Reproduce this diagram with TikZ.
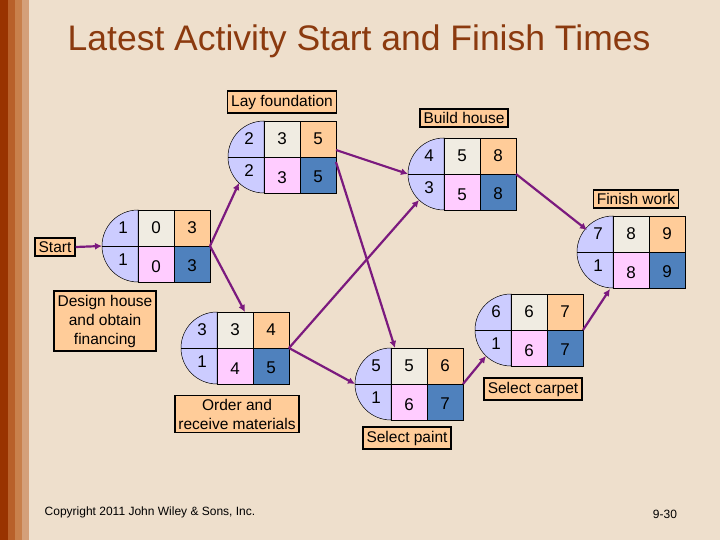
\documentclass[tikz,border=0pt]{standalone}
\usepackage{fontspec}
\setmainfont{Liberation Sans}
\usetikzlibrary{arrows.meta,calc}
\definecolor{bg}{HTML}{EEDFCC}
\definecolor{semi}{HTML}{CCCCFF}
\definecolor{es}{HTML}{F0ECE2}
\definecolor{ef}{HTML}{FFCC99}
\definecolor{ls}{HTML}{FFCCFF}
\definecolor{lf}{HTML}{4F81BD}
\definecolor{arr}{HTML}{7B1A7E}
\definecolor{ttl}{HTML}{8B3A0F}
\definecolor{st1}{HTML}{993300}
\definecolor{st2}{HTML}{B8602A}
\definecolor{st3}{HTML}{C8804C}
\definecolor{st4}{HTML}{D4A07A}
\tikzset{
 lab/.style={draw=black,line width=1.6pt,fill=ef,font=\fontsize{15.5}{19}\selectfont,align=center,inner sep=3.5pt},
 num/.style={font=\fontsize{17}{19}\selectfont},
 con/.style={draw=arr,line width=2.2pt,-{Latex[length=7pt,width=7pt]}}
}
% \actnode{name}{cx}{cy}{slack}{ES}{EF}{slack}{LS}{LF}
\newcommand{\actnode}[9]{%
 \begin{scope}[shift={(#2,#3)}]
  \filldraw[fill=semi,draw=black,line width=0.5pt] (0,-36) arc[start angle=-90,end angle=-270,radius=36] -- cycle;
  \draw[line width=0.5pt] (-36,0) -- (0,0);
  \filldraw[fill=es,draw=black,line width=0.5pt] (0,-36) rectangle (36,0);
  \filldraw[fill=ef,draw=black,line width=0.5pt] (36,-36) rectangle (72,0);
  \filldraw[fill=ls,draw=black,line width=0.5pt] (0,0) rectangle (36,36);
  \filldraw[fill=lf,draw=black,line width=0.5pt] (36,0) rectangle (72,36);
  \node[num] (#1a) at (-15,-18) {#4};
  \node[num] (#1b) at (18,-18) {#5};
  \node[num] (#1c) at (54,-18) {#6};
  \node[num] (#1d) at (-15,14) {#7};
  \node[num] (#1e) at (18,21) {#8};
  \node[num] (#1f) at (54,20) {#9};
  \coordinate (#1-l) at (-36,0);
  \coordinate (#1-r) at (72,0);
  \coordinate (#1-ll) at (-25,26);
  \coordinate (#1-ul) at (-26,-22);
 \end{scope}}
\begin{document}
\begin{tikzpicture}[x=1pt,y=-1pt]
\fill[bg] (0,0) rectangle (720,540);
\useasboundingbox (0,0) rectangle (720,540);
\fill[st1] (0,0) rectangle (8,540);
\fill[st2] (8,0) rectangle (15,540);
\fill[st3] (15,0) rectangle (22,540);
\fill[st4] (22,0) rectangle (29,540);
\node[text=ttl,font=\fontsize{35.5}{40}\selectfont] (title) at (359,41) {Latest Activity Start and Finish Times};

\actnode{n1}{138}{246}{1}{0}{3}{1}{0}{3}
\actnode{n2}{264}{157}{2}{3}{5}{2}{3}{5}
\actnode{n3}{217}{348}{3}{3}{4}{1}{4}{5}
\actnode{n4}{444}{174}{4}{5}{8}{3}{5}{8}
\actnode{n5}{391}{384}{5}{5}{6}{1}{6}{7}
\actnode{n6}{511}{330}{6}{6}{7}{1}{6}{7}
\actnode{n7}{613}{252}{7}{8}{9}{1}{8}{9}

\node[lab] (lstart) at (55,247) {Start};
\node[lab] (ldesign) at (105,321) {Design house\\and obtain\\financing};
\node[lab] (llay) at (282,102) {Lay foundation};
\node[lab] (lorder) at (237,414) {Order and\\receive materials};
\node[lab] (lbuild) at (464,118) {Build house};
\node[lab] (lpaint) at (407,438) {Select paint};
\node[lab] (lcarpet) at (533,389) {Select carpet};
\node[lab] (lfinish) at (636,199) {Finish work};

\coordinate (n2-out1) at (336,150);
\coordinate (n2-out2) at (336,162);
\coordinate (n3-top) at (245,312);
\coordinate (n5-top) at (395,348);
\coordinate (n7-bl) at (610,289);

\draw[con] (lstart.east) -- (n1-l);
\draw[con] (n1-r) -- (n2-ll);
\draw[con] (n1-r) -- (n3-top);
\draw[con] (n2-out1) -- (n4-l);
\draw[con] (n2-out2) -- (n5-top);
\draw[con] (n3-r) -- (n4-ll);
\draw[con] (n3-r) -- (n5-l);
\draw[con] (n4-r) -- (n7-ul);
\draw[con] (n5-r) -- (n6-ll);
\draw[con] (n6-r) -- (n7-bl);

\node[font=\fontsize{12}{14}\selectfont] (copy) at (150,512) {Copyright 2011 John Wiley \& Sons, Inc.};
\node[font=\fontsize{12}{14}\selectfont] (page) at (665,514) {9-30};
\end{tikzpicture}
\end{document}
